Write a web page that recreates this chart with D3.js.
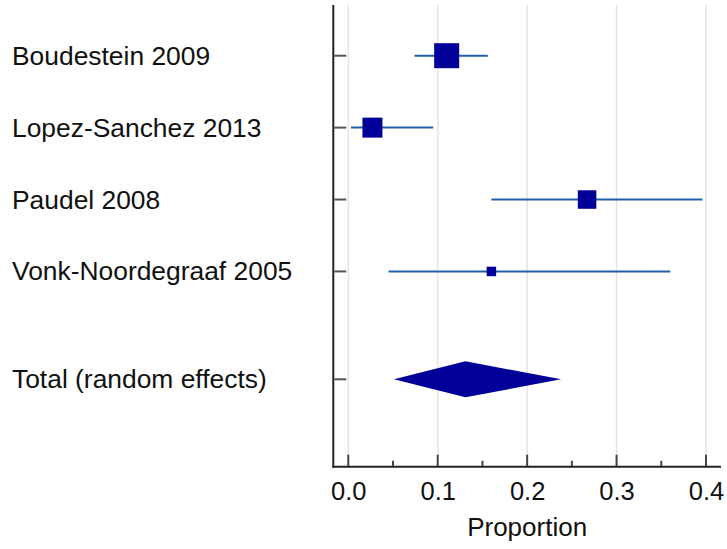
<!DOCTYPE html>
<html>
<head>
<meta charset="utf-8">
<script src="https://cdn.jsdelivr.net/npm/d3@7"></script>
<style>
  html, body { margin: 0; padding: 0; background: #fff; }
  svg { display: block; font-family: "Liberation Sans", Arial, sans-serif; }
</style>
</head>
<body>
<svg id="chart" width="727" height="549"></svg>
<script>
// Study-level proportions with 95% CI, plus pooled random-effects estimate
const studies   = ["Boudestein 2009", "Lopez-Sanchez 2013", "Paudel 2008", "Vonk-Noordegraaf 2005"];
const estimates = [0.110, 0.027, 0.267, 0.160];
const lowerCI   = [0.074, 0.003, 0.160, 0.045];
const upperCI   = [0.156, 0.095, 0.396, 0.360];
const weights   = [42.9, 27.4, 23.5, 6.2];   // relative weight (%), drives square size

const totalLabel = "Total (random effects)";
const totalEst   = 0.131;
const totalLower = 0.051;
const totalUpper = 0.238;

const majorTicks = [0.0, 0.1, 0.2, 0.3, 0.4];
const minorTicks = [0.05, 0.15, 0.25, 0.35];
const xTitle = "Proportion";

const svg = d3.select("#chart");

const x = d3.scaleLinear().domain([0, 0.4]).range([348.3, 706]);
// row positions: studies at 1..4, pooled row at 5.5
const y = d3.scaleLinear().domain([1, 5.5]).range([55.7, 379.3]);
const side = d3.scaleSqrt().domain([0, 42.9]).range([0, 25]);

const plotTop = 5, plotBottom = 466.7, axisLeft = 333.3, axisRight = 721;

// vertical gridlines
svg.append("g").selectAll("line").data(majorTicks).join("line")
  .attr("x1", d => x(d)).attr("x2", d => x(d))
  .attr("y1", plotTop).attr("y2", plotBottom)
  .attr("stroke", "#e4e4e4").attr("stroke-width", 1.5);

// x axis with inward ticks
const xAxis = svg.append("g").attr("transform", `translate(0,${plotBottom})`);
xAxis.call(d3.axisBottom(x).tickValues(majorTicks).tickFormat(d3.format(".1f")).tickSize(0).tickPadding(0));
xAxis.select(".domain").remove();
xAxis.selectAll(".tick text")
  .attr("y", 33).attr("dy", 0)
  .attr("font-size", 25.5).attr("fill", "#111")
  .attr("font-family", "Liberation Sans, Arial, sans-serif");
xAxis.selectAll(".tick line").remove();
xAxis.selectAll("line.major").data(majorTicks).join("line").attr("class", "major")
  .attr("x1", d => x(d)).attr("x2", d => x(d)).attr("y1", 0).attr("y2", -12)
  .attr("stroke", "#444").attr("stroke-width", 2);
xAxis.selectAll("line.minor").data(minorTicks).join("line").attr("class", "minor")
  .attr("x1", d => x(d)).attr("x2", d => x(d)).attr("y1", 0).attr("y2", -6)
  .attr("stroke", "#444").attr("stroke-width", 2);
xAxis.append("line").attr("x1", axisLeft - 1).attr("x2", axisRight).attr("y1", 0).attr("y2", 0)
  .attr("stroke", "#222").attr("stroke-width", 2);

// y axis line
svg.append("line").attr("x1", axisLeft).attr("x2", axisLeft)
  .attr("y1", plotTop).attr("y2", plotBottom + 1)
  .attr("stroke", "#222").attr("stroke-width", 2);

// y tick marks for each row
const rowPos = [1, 2, 3, 4, 5.5];
svg.append("g").selectAll("line").data(rowPos).join("line")
  .attr("x1", axisLeft + 1).attr("x2", axisLeft + 13)
  .attr("y1", d => y(d)).attr("y2", d => y(d))
  .attr("stroke", "#555").attr("stroke-width", 2);

// row labels
const labels = studies.concat([totalLabel]);
svg.append("g").selectAll("text").data(labels).join("text")
  .attr("x", 12).attr("y", (d, i) => y(rowPos[i]) + 9)
  .attr("font-size", 26.4).attr("fill", "#111")
  .text(d => d);

// confidence interval lines
const rows = studies.map((s, i) => ({ s, est: estimates[i], lo: lowerCI[i], hi: upperCI[i], w: weights[i], pos: i + 1 }));
svg.append("g").selectAll("line").data(rows).join("line")
  .attr("x1", d => x(d.lo)).attr("x2", d => x(d.hi))
  .attr("y1", d => y(d.pos)).attr("y2", d => y(d.pos))
  .attr("stroke", "#1f5faa").attr("stroke-width", 2);

// weighted squares
svg.append("g").selectAll("rect").data(rows).join("rect")
  .attr("x", d => x(d.est) - side(d.w) / 2)
  .attr("y", d => y(d.pos) - side(d.w) / 2)
  .attr("width", d => side(d.w)).attr("height", d => side(d.w))
  .attr("fill", "#000099");

// pooled estimate diamond
const yc = y(5.5), half = 18;
svg.append("path")
  .attr("d", d3.line()([[x(totalLower), yc], [x(totalEst), yc - half], [x(totalUpper), yc], [x(totalEst), yc + half]]) + "Z")
  .attr("fill", "#000099");

// axis title
svg.append("text").attr("x", x(0.2)).attr("y", 536)
  .attr("text-anchor", "middle").attr("font-size", 26).attr("fill", "#111")
  .text(xTitle);
</script>
</body>
</html>
